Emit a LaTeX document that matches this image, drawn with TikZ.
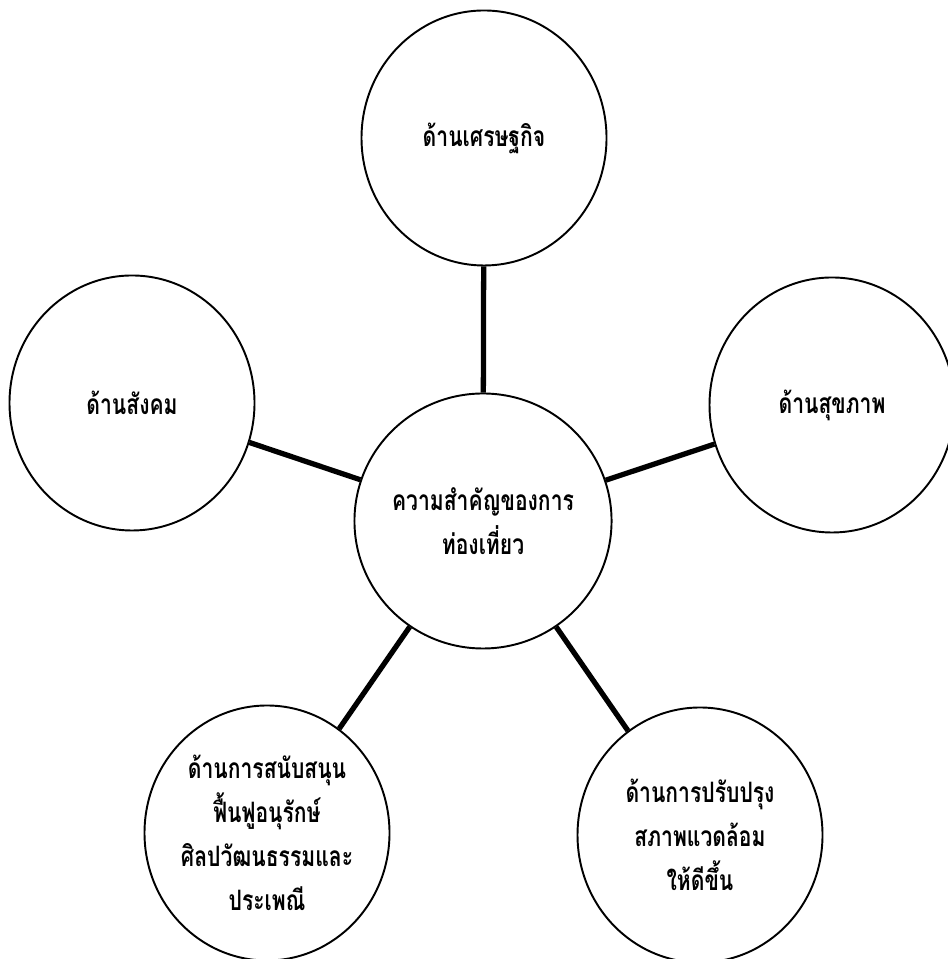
\documentclass[tikz,border=0pt]{standalone}
\usepackage{fontspec}
\newfontfamily\thaifont[Script=Thai,FakeStretch=0.75]{Loma}
\usepackage{tikz}
\usetikzlibrary{
  positioning,
  shapes.geometric
}
\tikzset{
  bubble/.style={ellipse, draw=black, line width=1.1pt, minimum width=4.9cm,
    minimum height=5.1cm, inner sep=0pt, align=center,
    font=\thaifont\bfseries\fontsize{16pt}{25pt}\selectfont},
  spoke/.style={line width=3pt}
}
\begin{document}
\begin{tikzpicture}

		\useasboundingbox (0,0) rectangle (18.94,19.18);

		% centre
		\node[bubble] (importance) at (9.66,8.76) {ความสำคัญของการ\\ท่องเที่ยว};

		% sides
		\node[bubble] (economy) at (9.68,16.42) {ด้านเศรษฐกิจ};
		\node[bubble] (society) at (2.64,11.12) {ด้านสังคม};
		\node[bubble] (health) at (16.64,11.08) {ด้านสุขภาพ};
		\node[bubble] (culture) at (5.34,2.52) {ด้านการสนับสนุน\\ฟื้นฟูอนุรักษ์\\ศิลปวัฒนธรรมและ\\ประเพณี};
		\node[bubble] (environment) at (14.0,2.48) {ด้านการปรับปรุง\\สภาพแวดล้อม\\ให้ดีขึ้น};

		% spokes
		\draw[spoke] (importance) -- (economy);
		\draw[spoke] (importance) -- (society);
		\draw[spoke] (importance) -- (health);
		\draw[spoke] (importance) -- (culture);
		\draw[spoke] (importance) -- (environment);
	\end{tikzpicture}
\end{document}
